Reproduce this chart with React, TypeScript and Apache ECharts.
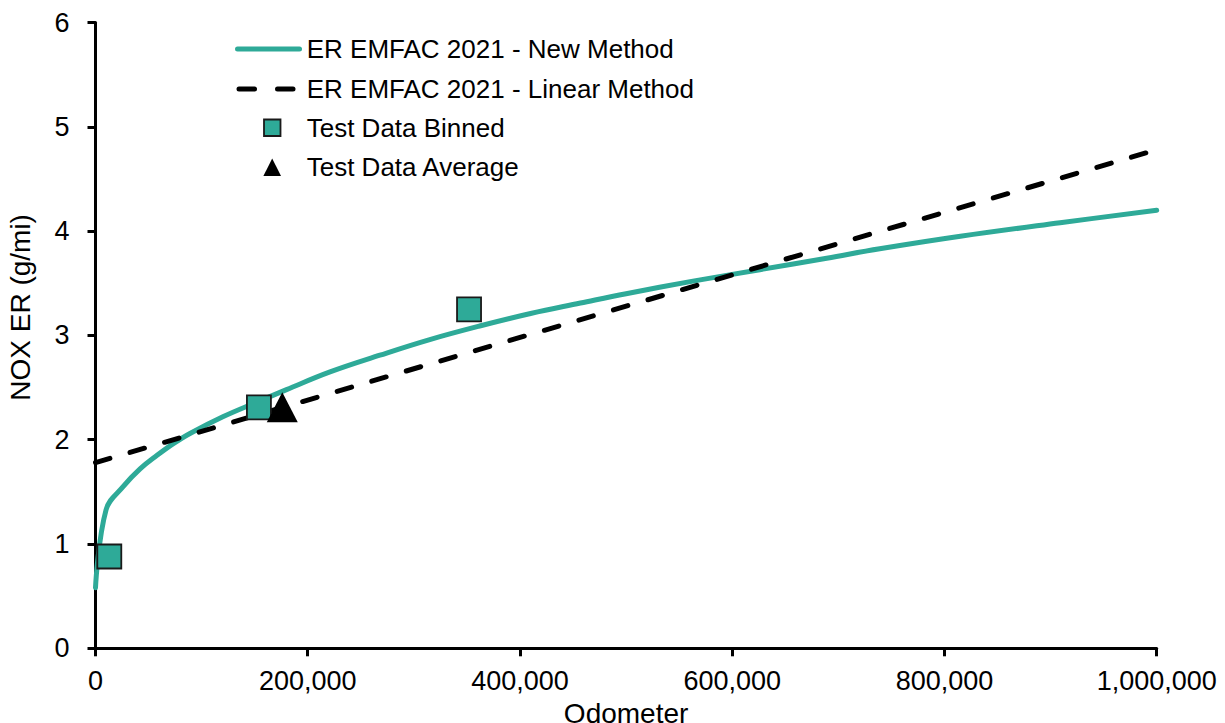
import React, { useEffect, useRef } from "react";
import * as echarts from "echarts";

const odometerNew = [0, 10000, 26000, 42000, 58000, 73000, 89000, 120000, 152000, 180000, 221000, 268000, 315000, 362000, 410000, 457000, 500000, 563000, 626000, 689000, 739000, 815000, 909000, 1000000];
const erNew = [0.58, 1.33, 1.55, 1.72, 1.85, 1.96, 2.06, 2.22, 2.36, 2.48, 2.65, 2.81, 2.96, 3.09, 3.21, 3.31, 3.4, 3.52, 3.63, 3.74, 3.83, 3.95, 4.08, 4.2];

const odometerLinear = [0, 1000000];
const erLinear = [1.78, 4.78];

const odometerBinned = [13000, 154000, 352000];
const erBinned = [0.88, 2.31, 3.25];

const odometerAverage = [176000];
const erAverage = [2.31];

const legendLabels = [
  "ER EMFAC 2021 - New Method",
  "ER EMFAC 2021 - Linear Method",
  "Test Data Binned",
  "Test Data Average",
];

const TEAL = "#2EAA98";
const FONT = "'Liberation Sans', Arial, sans-serif";

const zip = (xs: number[], ys: number[]) => xs.map((x, i) => [x, ys[i]]);

export default function App() {
  const ref = useRef<HTMLDivElement>(null);
  useEffect(() => {
    if (!ref.current) return;
    const chart = echarts.init(ref.current, undefined, { renderer: "svg" });
    const axisLine = { show: true, lineStyle: { color: "#000", width: 3 } };
    const axisTick = { show: true, inside: false, length: 8, lineStyle: { color: "#000", width: 3 } };
    const rowsY = [49, 89, 127.5, 166.5];
    const textX = 306.7;
    const legendGraphics: any[] = [
      { type: "line", shape: { x1: 237.5, y1: rowsY[0], x2: 299.5, y2: rowsY[0] }, style: { stroke: TEAL, lineWidth: 5, lineCap: "round" } },
      { type: "line", shape: { x1: 239, y1: rowsY[1], x2: 254.5, y2: rowsY[1] }, style: { stroke: "#000", lineWidth: 5, lineCap: "round" } },
      { type: "line", shape: { x1: 277.5, y1: rowsY[1], x2: 293, y2: rowsY[1] }, style: { stroke: "#000", lineWidth: 5, lineCap: "round" } },
      { type: "rect", shape: { x: 264, y: 119.5, width: 16.5, height: 16.5 }, style: { fill: TEAL, stroke: "#1a1a1a", lineWidth: 1.8 } },
      { type: "polygon", shape: { points: [[272.2, 158.5], [281, 176], [263.4, 176]] }, style: { fill: "#000" } },
      ...legendLabels.map((t, i) => ({
        type: "text",
        x: textX,
        y: rowsY[i],
        style: { text: t, fontFamily: FONT, fontSize: 26, fill: "#000", textVerticalAlign: "middle", verticalAlign: "middle" },
      })),
    ];
    chart.setOption({
      animation: false,
      backgroundColor: "#fff",
      textStyle: { fontFamily: FONT },
      grid: { left: 95.5, right: 68.3, top: 22.5, bottom: 74.7, containLabel: false, outerBoundsMode: "none" },
      legend: { show: false },
      graphic: legendGraphics,
      xAxis: {
        type: "value",
        min: 0,
        max: 1000000,
        interval: 200000,
        name: "Odometer",
        nameLocation: "middle",
        nameGap: 47,
        nameTextStyle: { fontFamily: FONT, fontSize: 28, color: "#000" },
        axisLine,
        axisTick,
        splitLine: { show: false },
        axisLabel: {
          fontFamily: FONT,
          fontSize: 27,
          color: "#000",
          margin: 19,
          formatter: (v: number) => v.toLocaleString("en-US"),
        },
      },
      yAxis: {
        type: "value",
        min: 0,
        max: 6,
        interval: 1,
        name: "NOX ER (g/mi)",
        nameLocation: "middle",
        nameGap: 61,
        nameTextStyle: { fontFamily: FONT, fontSize: 28, color: "#000", padding: [0, 0, 0, 56] },
        axisLine,
        axisTick,
        splitLine: { show: false },
        axisLabel: { fontFamily: FONT, fontSize: 27, color: "#000", margin: 26 },
      },
      series: [
        {
          name: legendLabels[0],
          type: "line",
          data: zip(odometerNew, erNew),
          symbol: "none",
          smooth: 0.4,
          lineStyle: { color: TEAL, width: 5, cap: "round", join: "round" },
          itemStyle: { color: TEAL },
          z: 2,
        },
        {
          name: legendLabels[1],
          type: "line",
          data: zip(odometerLinear, erLinear),
          symbol: "none",
          lineStyle: { color: "#000", width: 5, type: [15, 21], cap: "round" },
          itemStyle: { color: "#000" },
          z: 3,
        },
        {
          name: legendLabels[2],
          type: "scatter",
          data: zip(odometerBinned, erBinned),
          symbol: "rect",
          symbolSize: 24,
          itemStyle: { color: TEAL, borderColor: "#1a1a1a", borderWidth: 1.8, opacity: 1 },
          z: 4,
        },
        {
          name: legendLabels[3],
          type: "scatter",
          data: zip(odometerAverage, erAverage),
          symbol: "triangle",
          symbolSize: [31, 30],
          itemStyle: { color: "#000", opacity: 1 },
          z: 5,
        },
      ],
    });
    return () => chart.dispose();
  }, []);
  return (
    <div
      ref={ref}
      style={{ position: "absolute", left: 0, top: 0, width: 1225, height: 723, background: "#fff" }}
    />
  );
}
